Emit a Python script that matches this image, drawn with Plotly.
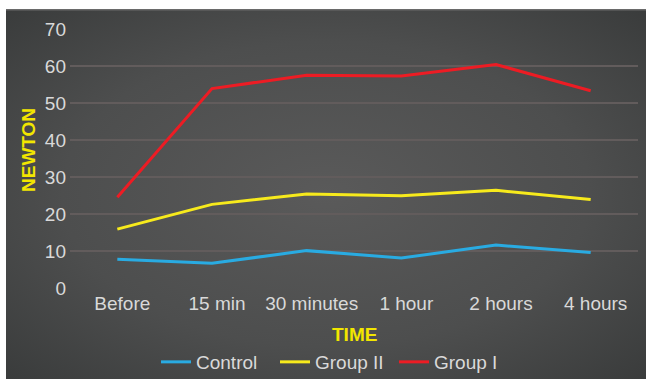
import base64
import plotly.graph_objects as go

# Measured force (N) at each time point
time_points = ["Before", "15 min", "30 minutes", "1 hour", "2 hours", "4 hours"]
control = [7.8, 6.7, 10.1, 8.1, 11.6, 9.6]
group_ii = [15.9, 22.6, 25.4, 24.9, 26.4, 23.9]
group_i = [24.5, 53.9, 57.5, 57.3, 60.4, 53.3]

series_names = ["Control", "Group II", "Group I"]
series_colors = ["#29abe2", "#f7ea1c", "#ed1c24"]

FONT = "Liberation Sans, Arial, sans-serif"
TICK_COLOR = "#d9d9d9"
TITLE_COLOR = "#f2e600"
FS = 19

W, H = 646, 379
ML, MR, MT, MB = 70, 8, 29, 91
PW, PH = W - ML - MR, H - MT - MB


def px_to_paper_x(px):
    return (px - ML) / PW


def px_to_paper_y(py):
    return (H - MB - py) / PH


# Dark chart panel with a soft radial shading
panel_svg = (
    '<svg xmlns="http://www.w3.org/2000/svg" width="640" height="370" '
    'viewBox="0 0 640 370" preserveAspectRatio="none">'
    '<defs><radialGradient id="g" cx="0.5" cy="0.5" r="0.75">'
    '<stop offset="0" stop-color="#5a5a5a"/>'
    '<stop offset="0.55" stop-color="#4d4e4e"/>'
    '<stop offset="1" stop-color="#373939"/>'
    '</radialGradient></defs>'
    '<rect width="640" height="370" fill="url(#g)"/>'
    '<rect width="640" height="1.5" fill="#6a6a6a"/>'
    '</svg>'
)
panel_src = "data:image/svg+xml;base64," + base64.b64encode(panel_svg.encode()).decode()

fig = go.Figure()
for name, values, color in zip(series_names, [control, group_ii, group_i], series_colors):
    fig.add_trace(go.Scatter(
        x=time_points, y=values, name=name, mode="lines",
        line=dict(color=color, width=3),
    ))

panel_x0, panel_x1 = px_to_paper_x(6), px_to_paper_x(646)
panel_y_top, panel_y_bot = px_to_paper_y(9), px_to_paper_y(379)

fig.update_layout(
    width=W, height=H,
    margin=dict(l=ML, r=MR, t=MT, b=MB, pad=0, autoexpand=False),
    paper_bgcolor="white",
    plot_bgcolor="rgba(0,0,0,0)",
    font=dict(family=FONT, size=FS, color=TICK_COLOR),
    images=[dict(
        source=panel_src, xref="paper", yref="paper",
        x=panel_x0, y=panel_y_top,
        sizex=panel_x1 - panel_x0, sizey=panel_y_top - panel_y_bot,
        xanchor="left", yanchor="top", sizing="stretch", layer="below",
    )],
    xaxis=dict(
        range=[-0.5, len(time_points) - 0.5],
        showgrid=False, zeroline=False, showline=False,
        ticks="", tickfont=dict(size=FS, color=TICK_COLOR),
        ticklabelshift=5, ticklabelstandoff=2,
        automargin=False, fixedrange=True,
    ),
    yaxis=dict(
        range=[0, 70], dtick=10, tick0=0,
        showgrid=True, gridcolor="#625c5c", gridwidth=2,
        zeroline=False, showline=False, ticks="",
        tickfont=dict(size=FS, color=TICK_COLOR),
        ticklabelstandoff=3,
        automargin=False, fixedrange=True,
    ),
    showlegend=True,
    legend=dict(
        orientation="h", x=px_to_paper_x(156), xanchor="left",
        y=px_to_paper_y(362), yanchor="middle",
        bgcolor="rgba(0,0,0,0)", font=dict(size=FS, color=TICK_COLOR),
        itemwidth=30, tracegroupgap=0,
        entrywidth=74, entrywidthmode="pixels",
    ),
    annotations=[
        dict(text="<b>NEWTON</b>", textangle=-90, xref="paper", yref="paper",
             x=px_to_paper_x(28), y=px_to_paper_y(150), xanchor="center", yanchor="middle",
             showarrow=False, font=dict(family=FONT, size=FS, color=TITLE_COLOR)),
        dict(text="<b>TIME</b>", xref="paper", yref="paper",
             x=px_to_paper_x(354), y=px_to_paper_y(334), xanchor="center", yanchor="middle",
             showarrow=False, font=dict(family=FONT, size=FS, color=TITLE_COLOR)),
    ],
)

fig.write_html("out.html", config={"displayModeBar": False})
